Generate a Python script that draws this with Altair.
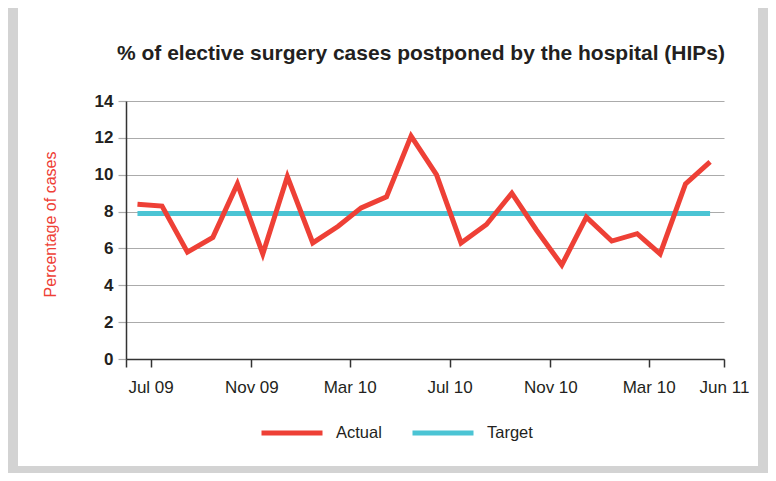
import altair as alt
import pandas as pd

# ---- data ----
months = [
    "2009-06-15", "2009-07-15", "2009-08-15", "2009-09-15", "2009-10-15", "2009-11-15",
    "2009-12-15", "2010-01-15", "2010-02-15", "2010-03-15", "2010-04-15", "2010-05-15",
    "2010-06-15", "2010-07-15", "2010-08-15", "2010-09-15", "2010-10-15", "2010-11-15",
    "2010-12-15", "2011-01-15", "2011-02-15", "2011-03-15", "2011-04-15", "2011-05-15",
]
actual = [8.4, 8.3, 5.8, 6.6, 9.5, 5.7, 9.9, 6.3, 7.2, 8.2, 8.8, 12.1,
          10.0, 6.3, 7.3, 9.0, 7.0, 5.1, 7.7, 6.4, 6.8, 5.7, 9.5, 10.7]
target = [7.9, 7.9, 7.9, 7.9, 7.9, 7.9, 7.9, 7.9, 7.9, 7.9, 7.9, 7.9,
          7.9, 7.9, 7.9, 7.9, 7.9, 7.9, 7.9, 7.9, 7.9, 7.9, 7.9, 7.9]
series_names = ["Actual", "Target"]
series_colors = ["#ee4036", "#4bc4d4"]
tick_dates = [(2009, 6), (2009, 7), (2009, 11), (2010, 3), (2010, 7), (2010, 11), (2011, 3), (2011, 6)]
tick_labels = ["", "Jul 09", "Nov 09", "Mar 10", "Jul 10", "Nov 10", "Mar 10", "Jun 11"]
y_ticks = [0, 2, 4, 6, 8, 10, 12, 14]

FONT = "Liberation Sans, Arial, Helvetica, sans-serif"
TEXT = "#231f20"

df_actual = pd.DataFrame({"month": [m + "T00:00:00" for m in months], "value": actual, "series": "Actual"})
df_target = pd.DataFrame({"month": [m + "T00:00:00" for m in months], "value": target, "series": "Target"})

label_expr = " : ".join(
    f"(year(datum.value)=={y} && month(datum.value)=={m - 1}) ? '{lab}'"
    for (y, m), lab in zip(tick_dates, tick_labels)
) + " : ''"

x_enc = alt.X(
    "month:T",
    scale=alt.Scale(domain=[alt.DateTime(year=2009, month=6, date=1),
                            alt.DateTime(year=2011, month=6, date=1)]),
    axis=alt.Axis(
        values=[alt.DateTime(year=y, month=m, date=1) for y, m in tick_dates],
        labelExpr=label_expr, title=None, grid=False,
        tickSize=8, tickColor="#333333", tickWidth=1.5,
        domainColor="#333333", domainWidth=1.5,
        labelFont=FONT, labelFontSize=17, labelColor=TEXT, labelPadding=12,
        labelAngle=0, labelOverlap=False, labelFlush=False, labelBound=False, zindex=1,
    ),
)
y_enc = alt.Y(
    "value:Q",
    scale=alt.Scale(domain=[0, 14], nice=False),
    axis=alt.Axis(
        values=y_ticks, title="Percentage of cases", grid=True,
        gridColor="#ababab", gridWidth=1.2,
        tickColor="#ababab", tickWidth=1.2, tickSize=8,
        domainColor="#333333", domainWidth=1.5,
        labelFont=FONT, labelFontSize=17, labelFontWeight="bold", labelColor=TEXT, labelPadding=5,
        labelOverlap=False,
        titleFont=FONT, titleFontSize=16, titleFontWeight="normal", titleColor="#ee4036",
        titlePadding=36, titleY=123,
    ),
)
color_enc = alt.Color(
    "series:N",
    scale=alt.Scale(domain=series_names, range=series_colors),
    legend=alt.Legend(
        title=None, orient="none", direction="horizontal",
        legendX=133, legendY=299,
        symbolType="stroke", symbolSize=3721, symbolStrokeWidth=5,
        labelFont=FONT, labelFontSize=16.5, labelColor=TEXT,
        labelOffset=11, columnPadding=20,
    ),
)

target_line = alt.Chart(df_target).mark_line(strokeWidth=5).encode(x=x_enc, y=y_enc, color=color_enc)
actual_line = alt.Chart(df_actual).mark_line(strokeWidth=5, strokeJoin="miter").encode(x=x_enc, y=y_enc, color=color_enc)

frame = alt.Chart(pd.DataFrame({"a": [0]})).mark_rect(
    filled=False, stroke="#d3d3d3", strokeWidth=10
).encode(x=alt.value(-113), x2=alt.value(637), y=alt.value(-100), y2=alt.value(370))

chart = alt.layer(target_line, actual_line, frame).properties(
    width=598, height=258,
    title=alt.TitleParams(
        "% of elective surgery cases postponed by the hospital (HIPs)",
        font=FONT, fontSize=21, fontWeight="bold", color=TEXT, anchor="middle",
        baseline="alphabetic", offset=0, dy=85, dx=-4,
    ),
    autosize=alt.AutoSizeParams(type="none"),
    padding={"left": 118, "top": 93, "right": 44, "bottom": 114},
    background="white",
).configure_view(stroke=None)

chart.save("out.html", embed_options={"renderer": "svg", "actions": False})
